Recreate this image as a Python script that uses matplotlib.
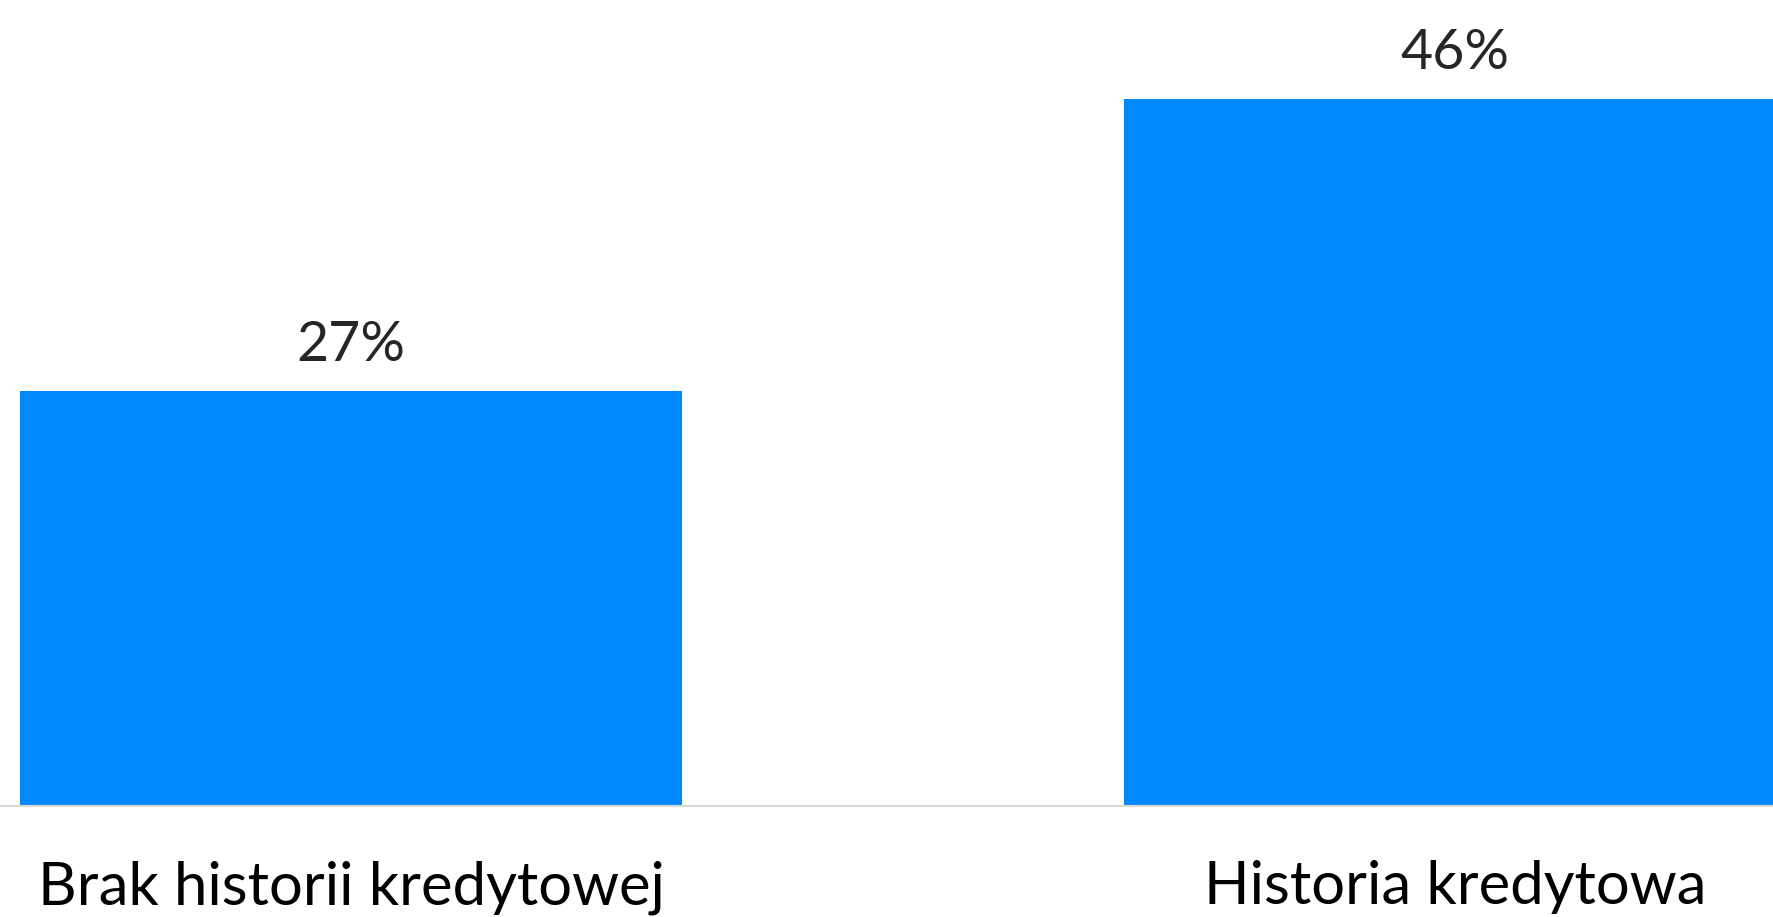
import matplotlib
matplotlib.use("Agg")
import matplotlib.pyplot as plt

categories = ["Brak historii kredytowej", "Historia kredytowa"]
values = [27, 46]
labels = ["27%", "46%"]

plt.rcParams['font.family'] = ['Lato', 'DejaVu Sans']

fig = plt.figure(figsize=(17.73, 9.17), dpi=100)
ax = fig.add_axes([0, 111 / 917, 1, 806 / 917])

x = list(range(len(categories)))
bars = ax.bar(x, values, width=0.6, color="#0088FF", zorder=2)

# percent labels above the bars
for b, lab in zip(bars, labels):
    ax.annotate(lab, (b.get_x() + b.get_width() / 2, b.get_height()),
                xytext=(0, 14), textcoords="offset points",
                ha="center", va="bottom", fontsize=40, color="#262626")

ax.set_xlim(-351 / 1104, (1773 - 351) / 1104)
ax.set_ylim(0, 806 / 15.38)
ax.set_xticks(x)
ax.set_xticklabels(categories, fontsize=43, color="#000000")
ax.tick_params(axis="x", length=0, pad=39)
ax.tick_params(axis="y", left=False, labelleft=False)

for s in ["top", "left", "right"]:
    ax.spines[s].set_visible(False)
ax.spines["bottom"].set_color("#D9D9D9")
ax.spines["bottom"].set_linewidth(1.5)

fig.savefig("out.png", dpi=100)
